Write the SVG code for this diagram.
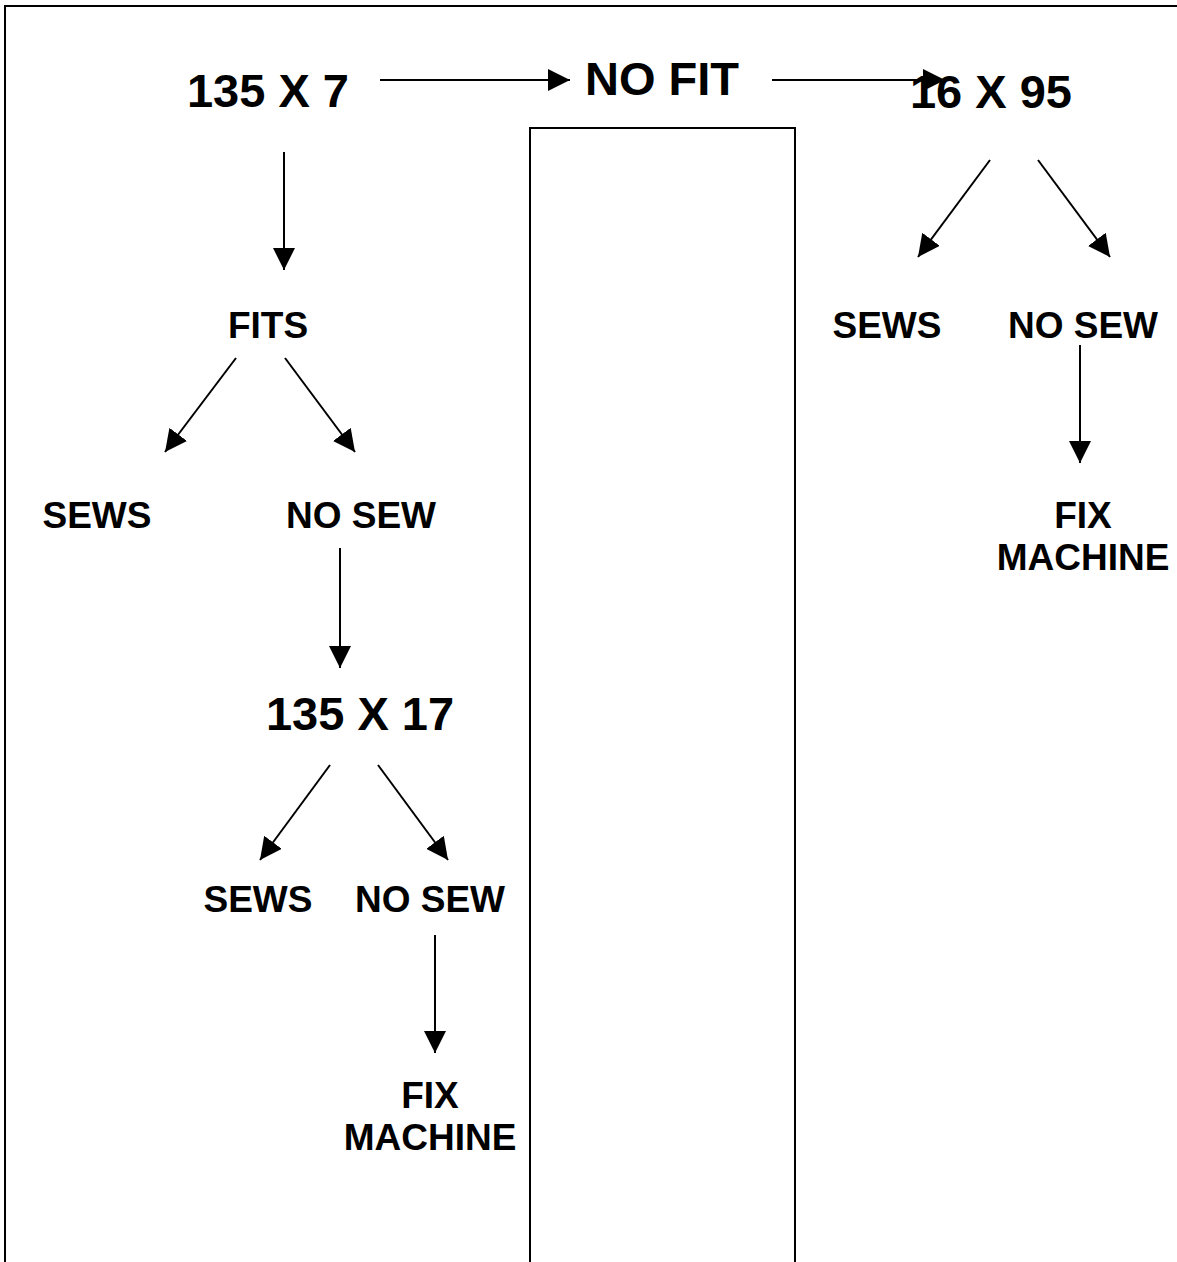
<svg xmlns="http://www.w3.org/2000/svg" width="1177" height="1262" viewBox="0 0 1177 1262">
<style>
.t{font-family:"Liberation Sans",Arial,sans-serif;font-weight:bold;fill:#000;text-anchor:middle}
.big{font-size:47px}
.sm{font-size:37px}
.c{stroke:#000;stroke-width:2;fill:none}
</style>
<defs>
<marker id="ah" markerUnits="userSpaceOnUse" markerWidth="22" markerHeight="22" refX="20" refY="10" orient="auto" viewBox="0 0 20 20">
<path d="M0,0 L20,10 L0,20 z" fill="#000"/>
</marker>
</defs>
<rect width="1177" height="1262" fill="#fff"/>
<path d="M5,1262 V6 H1177" class="c"/>
<rect id="box" x="530" y="128" width="265" height="1140" class="c"/>
<g id="connectors">
<line x1="380" y1="80" x2="570" y2="80" class="c" marker-end="url(#ah)"/>
<line x1="772" y1="80" x2="945" y2="80" class="c" marker-end="url(#ah)"/>
<line x1="284" y1="152" x2="284" y2="270" class="c" marker-end="url(#ah)"/>
<line x1="236" y1="358" x2="165" y2="452" class="c" marker-end="url(#ah)"/>
<line x1="285" y1="358" x2="355" y2="452" class="c" marker-end="url(#ah)"/>
<line x1="340" y1="548" x2="340" y2="668" class="c" marker-end="url(#ah)"/>
<line x1="330" y1="765" x2="260" y2="860" class="c" marker-end="url(#ah)"/>
<line x1="378" y1="765" x2="448" y2="860" class="c" marker-end="url(#ah)"/>
<line x1="435" y1="935" x2="435" y2="1053" class="c" marker-end="url(#ah)"/>
<line x1="990" y1="160" x2="918" y2="257" class="c" marker-end="url(#ah)"/>
<line x1="1038" y1="160" x2="1110" y2="257" class="c" marker-end="url(#ah)"/>
<line x1="1080" y1="345" x2="1080" y2="463" class="c" marker-end="url(#ah)"/>
</g>
<g id="n1"><text class="t big" x="268" y="107">135 X 7</text></g>
<g id="n2"><text class="t big" x="662" y="95">NO FIT</text></g>
<g id="n3"><text class="t big" x="991" y="108">16 X 95</text></g>
<g id="n4"><text class="t sm" x="268" y="338">FITS</text></g>
<g id="n5"><text class="t sm" x="97" y="528">SEWS</text></g>
<g id="n6"><text class="t sm" x="361" y="528">NO SEW</text></g>
<g id="n7"><text class="t big" x="360" y="730">135 X 17</text></g>
<g id="n8"><text class="t sm" x="258" y="912">SEWS</text></g>
<g id="n9"><text class="t sm" x="430" y="912">NO SEW</text></g>
<g id="n10"><text class="t sm" x="430" y="1108">FIX</text><text class="t sm" x="430" y="1150">MACHINE</text></g>
<g id="n11"><text class="t sm" x="887" y="338">SEWS</text></g>
<g id="n12"><text class="t sm" x="1083" y="338">NO SEW</text></g>
<g id="n13"><text class="t sm" x="1083" y="528">FIX</text><text class="t sm" x="1083" y="570">MACHINE</text></g>
</svg>
